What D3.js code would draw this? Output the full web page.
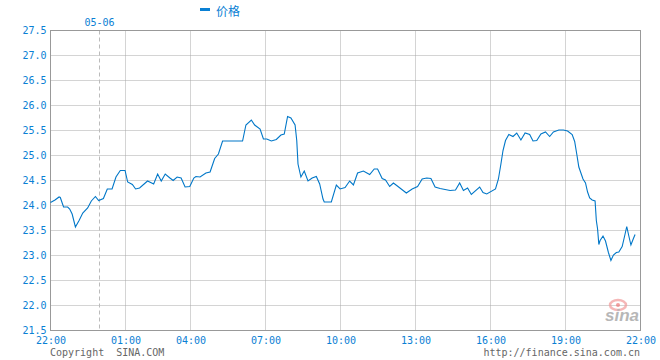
<!DOCTYPE html>
<html>
<head>
<meta charset="utf-8">
<script src="https://cdn.jsdelivr.net/npm/d3@7"></script>
<style>
  body { margin: 0; background: #fff; }
  svg { display: block; }
</style>
</head>
<body>
<script>
// Chart size and plot frame
let width = 660;
let height = 360;
let plotLeft = 50.5, plotRight = 640.5, plotTop = 30.5, plotBottom = 330.5;

// Price series, times (22:00 one day to 22:00 the next)
var times = [
  '22:00','22:11','22:21','22:24','22:32','22:42','22:47','22:53','23:01','23:10',
  '23:19','23:31','23:40','23:50','23:58','00:09','00:18','00:29','00:38','00:48',
  '00:59','01:06','01:19','01:28','01:39','02:01','02:18','02:29','02:39','02:50',
  '03:03','03:12','03:23','03:34','03:45','03:58','04:08','04:13','04:23','04:37',
  '04:47','04:58','05:07','05:17','06:05','06:13','06:26','06:34','06:47','06:55',
  '07:03','07:14','07:26','07:37','07:45','07:53','08:01','08:11','08:15','08:18',
  '08:25','08:33','08:42','08:52','09:02','09:10','09:18','09:21','09:38','09:50',
  '09:59','10:11','10:22','10:31','10:41','10:55','11:10','11:21','11:29','11:40',
  '11:48','11:58','12:07','12:18','12:38','12:52','13:05','13:16','13:27','13:37',
  '13:47','13:59','14:23','14:36','14:46','14:55','15:05','15:14','15:34','15:42',
  '15:51','16:12','16:19','16:25','16:30','16:36','16:44','16:54','17:03','17:13',
  '17:23','17:34','17:42','17:51','18:01','18:12','18:22','18:31','18:44','18:55',
  '19:05','19:16','19:22','19:27','19:32','19:37','19:42','19:48','19:53','19:58',
  '20:04','20:11','20:14','20:17','20:20','20:23','20:30','20:36','20:43','20:49',
  '20:55','21:02','21:08','21:16','21:23','21:27','21:32','21:37','21:43','21:47'
];
var prices = [
  24.06,24.11,24.17,24.16,23.97,23.97,23.93,23.83,23.57,23.70,
  23.85,23.95,24.09,24.18,24.10,24.14,24.33,24.33,24.57,24.70,
  24.70,24.47,24.42,24.33,24.35,24.49,24.43,24.63,24.49,24.63,
  24.55,24.50,24.57,24.55,24.37,24.38,24.55,24.58,24.57,24.65,
  24.67,24.94,25.03,25.29,25.29,25.61,25.71,25.61,25.53,25.33,
  25.33,25.29,25.32,25.41,25.43,25.78,25.75,25.61,25.30,24.83,
  24.57,24.69,24.49,24.55,24.58,24.43,24.13,24.07,24.07,24.41,
  24.33,24.36,24.49,24.41,24.65,24.69,24.62,24.73,24.73,24.54,
  24.51,24.38,24.45,24.38,24.25,24.33,24.38,24.53,24.55,24.54,
  24.37,24.34,24.30,24.31,24.45,24.30,24.35,24.22,24.37,24.26,
  24.23,24.33,24.53,24.83,25.10,25.30,25.42,25.38,25.45,25.31,
  25.45,25.42,25.29,25.30,25.43,25.47,25.38,25.47,25.51,25.51,
  25.49,25.42,25.28,25.03,24.77,24.65,24.53,24.45,24.27,24.15,
  24.11,24.09,23.70,23.53,23.22,23.30,23.39,23.29,23.06,22.90,
  23.01,23.06,23.07,23.18,23.43,23.58,23.39,23.21,23.34,23.42
];

// Axis ticks
var yTicks = [21.5, 22.0, 22.5, 23.0, 23.5, 24.0, 24.5, 25.0, 25.5, 26.0, 26.5, 27.0, 27.5];
var xTickLabels = ['22:00','01:00','04:00','07:00','10:00','13:00','16:00','19:00','22:00'];
var xTickHours = [0, 3, 6, 9, 12, 15, 18, 21, 24];
var dayMarkHour = 2;
var dayMarkLabel = '05-06';

var blue = '#0a80d4';
var mono = '"DejaVu Sans Mono", "Liberation Mono", monospace';

// Hours since 22:00
function hoursOf(t) {
  var p = t.split(':');
  var m = parseInt(p[0]) * 60 + parseInt(p[1]);
  return ((m - 22 * 60 + 1440) % 1440) / 60;
}

// The night hours are squeezed a bit in the original chart
var x = d3.scaleLinear().domain([0, 2, 3, 6, 24]).range([plotLeft, 99.5, 125.5, 190.5, plotRight]);
var y = d3.scaleLinear().domain([21.5, 27.5]).range([plotBottom, plotTop]);

var svg = d3.select('body')
            .append('svg')
            .attr('width', width)
            .attr('height', height);

// Horizontal grid
svg.append('g').selectAll('line').data(yTicks.slice(1, -1)).join('line')
  .attr('x1', plotLeft).attr('x2', plotRight)
  .attr('y1', d => y(d)).attr('y2', d => y(d))
  .attr('stroke', '#a8a8a8').attr('stroke-dasharray', '1,1');

// Vertical grid
svg.append('g').selectAll('line').data(xTickHours.slice(1, -1)).join('line')
  .attr('x1', d => x(d)).attr('x2', d => x(d))
  .attr('y1', plotTop).attr('y2', plotBottom)
  .attr('stroke', '#a8a8a8').attr('stroke-dasharray', '1,1');

// Day separator
svg.append('line')
  .attr('x1', x(dayMarkHour)).attr('x2', x(dayMarkHour))
  .attr('y1', plotTop).attr('y2', plotBottom)
  .attr('stroke', '#bbb').attr('stroke-dasharray', '4,3');

svg.append('text')
  .attr('x', x(dayMarkHour)).attr('y', 26)
  .attr('text-anchor', 'middle')
  .attr('font-family', mono).attr('font-size', 10)
  .attr('fill', blue).text(dayMarkLabel);

// Frame
svg.append('rect')
  .attr('x', plotLeft).attr('y', plotTop)
  .attr('width', plotRight - plotLeft).attr('height', plotBottom - plotTop)
  .attr('fill', 'none').attr('stroke', '#999');

// Sina logo
var logo = svg.append('g').attr('opacity', 0.7);
logo.append('ellipse').attr('cx', 618).attr('cy', 305).attr('rx', 8).attr('ry', 5)
  .attr('fill', 'none').attr('stroke', '#f29a9a').attr('stroke-width', 2.5);
logo.append('circle').attr('cx', 618).attr('cy', 305).attr('r', 2).attr('fill', '#e77');
logo.append('text').attr('x', 622).attr('y', 321)
  .attr('text-anchor', 'middle')
  .attr('font-family', 'Liberation Sans, Arial, sans-serif')
  .attr('font-size', 17).attr('font-weight', 'bold').attr('font-style', 'italic')
  .attr('fill', '#999').text('sina');

// Price line
var line = d3.line()
  .x((d, i) => x(hoursOf(times[i])))
  .y(d => y(d));

svg.append('path')
  .datum(prices)
  .attr('d', line)
  .attr('fill', 'none')
  .attr('stroke', '#0077c8')
  .attr('stroke-width', 1.1);

// Axes
var yAxis = svg.append('g')
  .attr('transform', 'translate(' + plotLeft + ',0)')
  .call(d3.axisLeft(y).tickValues(yTicks).tickSize(0).tickPadding(4).tickFormat(d3.format('.1f')));

var xAxis = svg.append('g')
  .attr('transform', 'translate(0,' + plotBottom + ')')
  .call(d3.axisBottom(x).tickValues(xTickHours).tickSize(0).tickPadding(6)
    .tickFormat((d, i) => xTickLabels[i]));

[yAxis, xAxis].forEach(function(ax) {
  ax.select('.domain').remove();
  ax.selectAll('text')
    .attr('font-family', mono).attr('font-size', 10)
    .attr('fill', blue);
});

// Legend
svg.append('rect').attr('x', 200).attr('y', 8).attr('width', 10).attr('height', 3).attr('fill', blue);
svg.append('text').attr('x', 216).attr('y', 16)
  .attr('font-family', '"Noto Sans CJK SC", sans-serif').attr('font-size', 12)
  .attr('fill', blue).text('价格');

// Footer
svg.append('text').attr('x', 50).attr('y', 356)
  .attr('font-family', mono).attr('font-size', 10)
  .attr('fill', '#666').style('white-space', 'pre')
  .text('Copyright  SINA.COM');

svg.append('text').attr('x', 640).attr('y', 356)
  .attr('text-anchor', 'end')
  .attr('font-family', mono).attr('font-size', 10)
  .attr('fill', '#666').text('http://finance.sina.com.cn');
</script>
</body>
</html>
